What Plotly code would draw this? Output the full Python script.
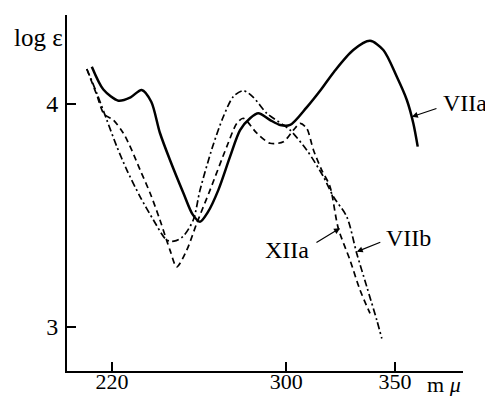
import plotly.graph_objects as go

# VIIa (solid)
wl_VIIa = [210.7, 216.0, 222.9, 228.5, 233.6, 238.0, 242.0, 246.6, 252.8, 257.0, 260.4, 264.0,
           268.8, 274.2, 278.8, 283.4, 287.2, 292.6, 297.2, 301.8, 309.4, 316.0, 322.0,
           330.8, 338.5, 344.6, 350.8, 355.4, 358.4, 360.4]
log_VIIa = [4.167, 4.065, 4.015, 4.030, 4.063, 4.010, 3.870, 3.749, 3.600, 3.505, 3.472, 3.515,
            3.614, 3.764, 3.883, 3.936, 3.958, 3.928, 3.906, 3.906, 3.985, 4.065, 4.145,
            4.242, 4.283, 4.242, 4.122, 4.018, 3.913, 3.809]

# VIIb (dash-dot)
wl_VIIb = [208.4, 213.0, 217.6, 222.2, 226.8, 232.9, 239.0, 245.1, 248.5, 252.5, 257.3,
           260.4, 266.2, 271.1, 275.7, 280.3, 284.9, 291.1, 298.7, 301.8, 309.4, 317.1,
           321.7, 327.8, 332.4, 337.0, 341.6, 343.9]
log_VIIb = [4.157, 4.048, 3.928, 3.809, 3.704, 3.584, 3.480, 3.390, 3.385, 3.405, 3.480,
            3.614, 3.809, 3.943, 4.033, 4.060, 4.030, 3.958, 3.906, 3.883, 3.794, 3.674,
            3.584, 3.495, 3.330, 3.181, 3.031, 2.949]

# XIIa (dashed)
wl_XIIa = [208.4, 213.0, 216.3, 220.6, 225.2, 229.0, 232.9, 237.5, 242.0, 246.6, 249.7,
           254.3, 258.9, 265.0, 272.7, 277.3, 280.3, 286.5, 292.6, 298.7, 303.3, 306.4,
           309.4, 312.5, 316.3, 320.1, 323.9, 329.3, 333.9, 338.5]
log_XIIa = [4.157, 4.040, 3.955, 3.928, 3.869, 3.794, 3.704, 3.600, 3.480, 3.345, 3.270,
            3.345, 3.465, 3.614, 3.809, 3.913, 3.936, 3.869, 3.824, 3.831, 3.883, 3.913,
            3.891, 3.794, 3.704, 3.630, 3.443, 3.300, 3.166, 3.061]

x_ticks = [220, 300, 350]
x_tick_text = ["220", "300", "350"]
y_ticks = [3, 4]
y_tick_text = ["3", "4"]

FONT = "Liberation Serif"
FS = 24
FS_X = 22

# the page body has an 8px default margin; size the figure to sit in the window
OFF = 8
W, H = 493 - OFF, 396 - OFF
L, R, T, B = 67 - OFF, 30, 15 - OFF, 25

fig = go.Figure()
fig.add_trace(go.Scatter(x=wl_VIIa, y=log_VIIa, mode="lines",
                         line=dict(color="black", width=2.5, shape="spline", smoothing=0.8)))
fig.add_trace(go.Scatter(x=wl_VIIb, y=log_VIIb, mode="lines",
                         line=dict(color="black", width=1.7, shape="spline", smoothing=0.8,
                                   dash="7px,3px,2px,3px")))
fig.add_trace(go.Scatter(x=wl_XIIa, y=log_XIIa, mode="lines",
                         line=dict(color="black", width=1.7, shape="spline", smoothing=0.8,
                                   dash="6px,4px")))

fig.update_layout(
    width=W, height=H,
    margin=dict(l=L, r=R, t=T, b=B, autoexpand=False),
    paper_bgcolor="white", plot_bgcolor="white",
    showlegend=False,
    font=dict(family=FONT, color="black", size=FS),
    xaxis=dict(range=[199.3, 381.2], tickvals=x_ticks, ticktext=x_tick_text,
               ticks="inside", ticklen=9, tickwidth=1.5, tickcolor="black",
               tickfont=dict(size=FS_X),
               showline=True, linecolor="black", linewidth=2, showgrid=False,
               zeroline=False, automargin=False, ticklabelstandoff=-10),
    yaxis=dict(range=[2.803, 4.399], tickvals=y_ticks, ticktext=y_tick_text,
               ticks="inside", ticklen=9, tickwidth=1.5, tickcolor="black",
               showline=True, linecolor="black", linewidth=2, showgrid=False,
               zeroline=False, automargin=False, ticklabelstandoff=2),
)

# label positions given in window pixels (centres); plot area spans x 67..463, y 15..371
ann = [
    dict(text="log ε", x=38, y=37, size=25),
    dict(text="m <i>μ</i>", x=444, y=384, size=FS_X),
    dict(text="VIIa", x=465, y=103, size=FS),
    dict(text="XIIa", x=287, y=250, size=FS),
    dict(text="VIIb", x=408, y=238, size=FS),
]
for a in ann:
    fig.add_annotation(text=a["text"], xref="paper", yref="paper",
                       x=(a["x"] - 67) / 396, y=(371 - a["y"]) / 356,
                       xanchor="center", yanchor="middle",
                       showarrow=False, font=dict(family=FONT, size=a["size"], color="black"))

# arrows (head on curve, tail near label), data coordinates
arrows = [
    ((357.7, 3.943), (369.7, 3.982)),   # VIIa
    ((324.7, 3.443), (313.2, 3.375)),   # XIIa
    ((332.4, 3.338), (343.9, 3.383)),   # VIIb
]
for (hx, hy), (tx, ty) in arrows:
    fig.add_annotation(x=hx, y=hy, ax=tx, ay=ty, xref="x", yref="y", axref="x", ayref="y",
                       text="", showarrow=True, arrowhead=2, arrowsize=1, arrowwidth=1.2,
                       arrowcolor="black")

fig.write_html("out.html")
